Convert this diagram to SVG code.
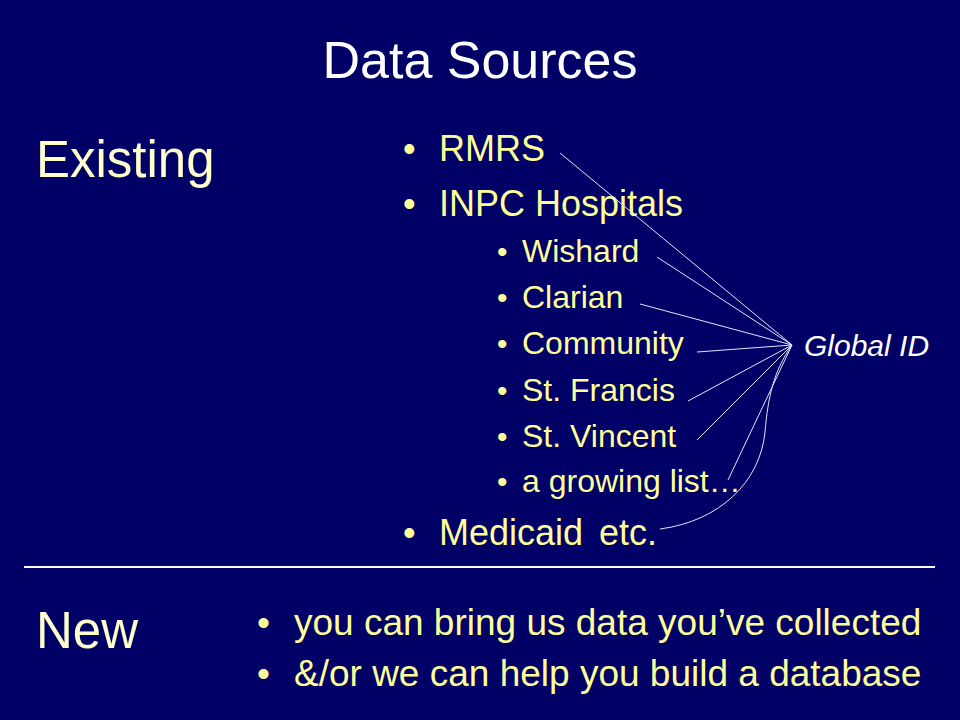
<svg xmlns="http://www.w3.org/2000/svg" width="960" height="720" viewBox="0 0 960 720">
<style>
text{font-family:"Liberation Sans",Arial,sans-serif}
.title{fill:#FFFFFF;font-size:52px}
.head{fill:#FFFFCC;font-size:51px}
.l1{fill:#FFFF99;font-size:36px}
.l2{fill:#FFFF99;font-size:32px}
.b2{fill:#FFFF99;font-size:30px}
.nw{fill:#FFFF99;font-size:37px}
.gid{fill:#FFFFFF;font-size:30px;font-style:italic}
.conn{fill:none;stroke:#E4E4FF;stroke-width:1}
</style>
<rect x="0" y="0" width="960" height="720" fill="#000066"/>
<g id="title"><text class="title" x="480" y="78" text-anchor="middle">Data Sources</text></g>
<g id="existing"><text class="head" x="36" y="177">Existing</text></g>
<g id="new"><text class="head" x="36" y="648">New</text></g>
<g id="rmrs"><text class="l1" x="403" y="161">•</text><text class="l1" x="439" y="161">RMRS</text></g>
<g id="inpc"><text class="l1" x="403" y="216">•</text><text class="l1" x="439" y="216">INPC Hospitals</text></g>
<g id="wishard"><text class="b2" x="497" y="262">•</text><text class="l2" x="522" y="262">Wishard</text></g>
<g id="clarian"><text class="b2" x="497" y="308">•</text><text class="l2" x="522" y="308">Clarian</text></g>
<g id="community"><text class="b2" x="497" y="354">•</text><text class="l2" x="522" y="354">Community</text></g>
<g id="stfrancis"><text class="b2" x="497" y="401">•</text><text class="l2" x="522" y="401">St. Francis</text></g>
<g id="stvincent"><text class="b2" x="497" y="447">•</text><text class="l2" x="522" y="447">St. Vincent</text></g>
<g id="growing"><text class="b2" x="497" y="492">•</text><text class="l2" x="522" y="492">a growing list…</text></g>
<g id="medicaid"><text class="l1" x="403" y="545">•</text><text class="l1" x="439" y="545" word-spacing="6">Medicaid etc.</text></g>
<g id="globalid"><text class="gid" x="804" y="356">Global ID</text></g>
<g id="separator"><line x1="24" y1="567" x2="935" y2="567" stroke="#FFFFFF" stroke-width="2"/></g>
<g id="new-items">
<text class="nw" x="257" y="635">•</text><text class="nw" x="294" y="635">you can bring us data you’ve collected</text>
<text class="nw" x="257" y="686">•</text><text class="nw" x="294" y="686">&amp;/or we can help you build a database</text>
</g>
<g id="connectors" class="conn">
<line x1="560" y1="153" x2="792" y2="345"/>
<line x1="657" y1="257" x2="792" y2="345"/>
<line x1="640" y1="304" x2="792" y2="345"/>
<line x1="697" y1="352" x2="792" y2="345"/>
<line x1="688" y1="401" x2="792" y2="345"/>
<line x1="697" y1="440" x2="792" y2="345"/>
<line x1="728" y1="480" x2="792" y2="345"/>
<path d="M660,529 C720,521 760,482 765,432 C768,398 773,372 792,345"/>
</g>
</svg>
